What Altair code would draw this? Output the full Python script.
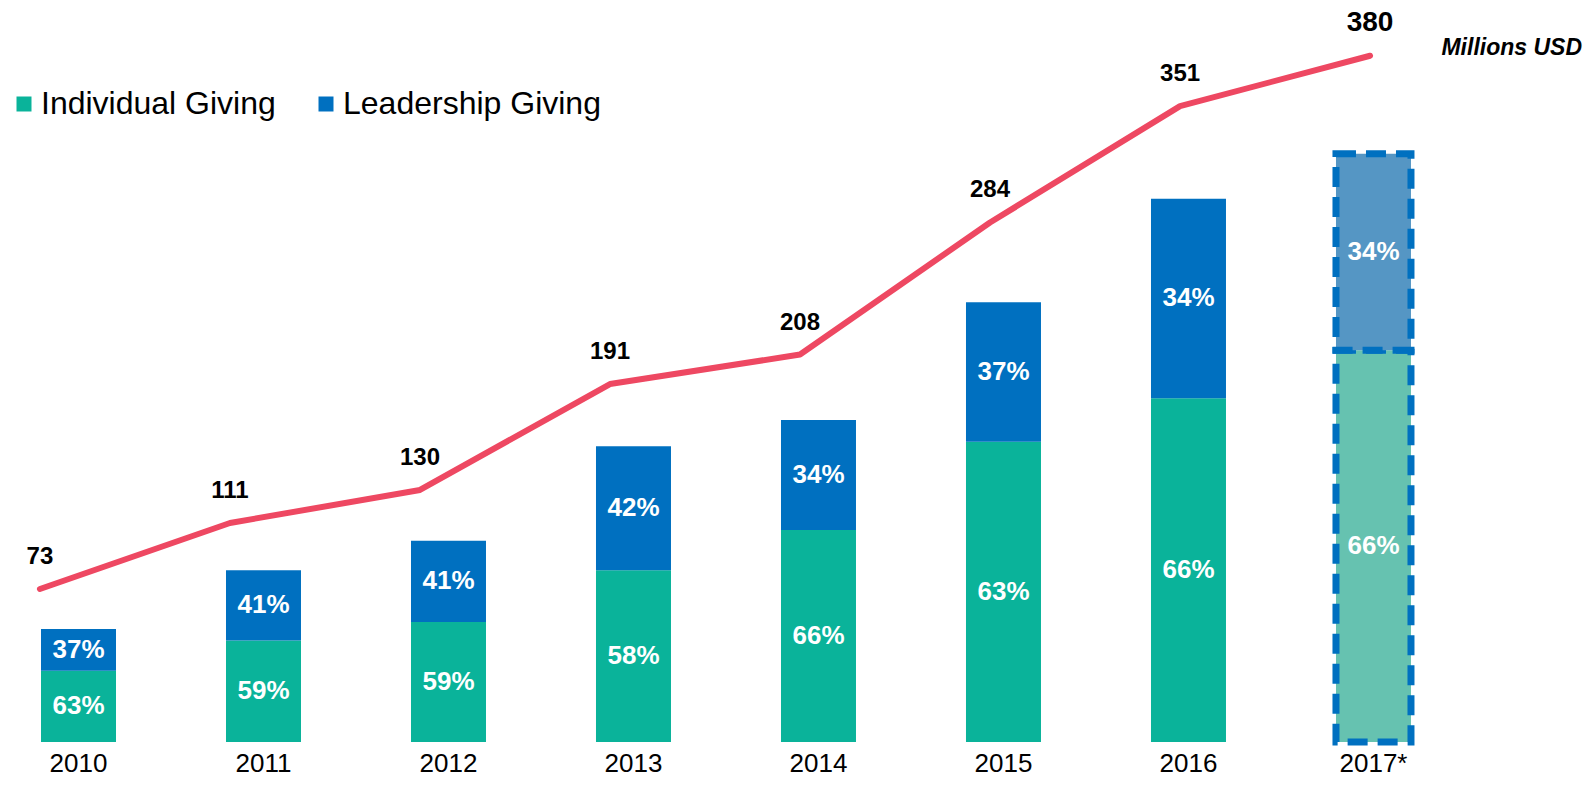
import altair as alt
import pandas as pd

# ---- data ----
years = ["2010", "2011", "2012", "2013", "2014", "2015", "2016", "2017*"]
totals = [73, 111, 130, 191, 208, 284, 351, 380]
# heights of the teal (individual) parts as drawn, millions USD
individual_amount = [46, 65.5, 77.5, 111, 137, 194, 222, 253]
individual_pct = [63, 59, 59, 58, 66, 63, 66, 66]
leadership_pct = [37, 41, 41, 42, 34, 37, 34, 34]
segments = ["Individual Giving", "Leadership Giving"]
unit_label = ["Millions USD"]

# ---- style ----
FONT = "Liberation Sans"
TEAL = "#0AB39A"
BLUE = "#0070C0"
TEAL_LIGHT = "#66C2B0"
BLUE_LIGHT = "#5596C4"
RED = "#EE4862"

PAD_TOP = 4
W, H = 1500, 730

rows = []
for y, t, ind, ip, lp in zip(years, totals, individual_amount, individual_pct, leadership_pct):
    lead = t - ind
    rows.append({"year": y, "segment": segments[0], "value": ind, "mid": ind / 2,
                 "label": f"{ip}%", "seg_order": 0})
    rows.append({"year": y, "segment": segments[1], "value": lead, "mid": ind + lead / 2,
                 "label": f"{lp}%", "seg_order": 1})
df_bars = pd.DataFrame(rows)
df_line = pd.DataFrame({"year": years, "total": totals})
df_unit = pd.DataFrame({"t": unit_label})

# bars: band scale (step 185, bandwidth 75)
xb = alt.Scale(domain=years, paddingInner=0.5946, paddingOuter=0.3514, align=0.2538)
# bar centres as a point scale (same centres as xb)
xc = alt.Scale(type="point", domain=years, padding=0.554, align=0.3439)
# line: point scale (step 190)
xl = alt.Scale(type="point", domain=years, padding=0.447, align=0.188)
yb = alt.Scale(domain=[0, H / 1.548], nice=False, zero=True)
yl = alt.Scale(domain=[-15.08, (H - 26.2) / 1.737], nice=False, zero=False)

x_axis = alt.Axis(title=None, labelFont=FONT, labelFontSize=26, labelColor="#000000",
                  ticks=False, domain=False, labelPadding=29, labelBaseline="alphabetic",
                  labelAngle=0, grid=False)

bars = alt.Chart(df_bars).transform_filter(alt.datum.year != "2017*").mark_bar().encode(
    x=alt.X("year:N", scale=xb, axis=x_axis),
    y=alt.Y("value:Q", scale=yb, axis=None, stack="zero"),
    color=alt.Color("segment:N",
                    scale=alt.Scale(domain=segments, range=[TEAL, BLUE]),
                    legend=alt.Legend(orient="none", legendX=0, legendY=80 - PAD_TOP,
                                      direction="horizontal", title=None,
                                      symbolType="square", symbolSize=225,
                                      symbolStrokeWidth=0, labelFont=FONT,
                                      labelFontSize=32, labelColor="#000000",
                                      labelOffset=1, columnPadding=34,
                                      labelLimit=0)),
    order=alt.Order("seg_order:Q"),
)

proj = alt.Chart(df_bars).transform_filter(alt.datum.year == "2017*").mark_bar(
    stroke=BLUE, strokeWidth=7, strokeDash=[20, 10]
).encode(
    x=alt.X("year:N", scale=xb, axis=None),
    y=alt.Y("value:Q", scale=yb, axis=None, stack="zero"),
    color=alt.Color("segment:N",
                    scale=alt.Scale(domain=segments, range=[TEAL_LIGHT, BLUE_LIGHT]),
                    legend=None),
    order=alt.Order("seg_order:Q"),
)

pct = alt.Chart(df_bars).mark_text(
    color="#FFFFFF", font=FONT, fontSize=26, fontWeight="bold", baseline="middle",
    align="center"
).encode(
    x=alt.X("year:N", scale=xc, axis=None),
    y=alt.Y("mid:Q", scale=yb, axis=None),
    text="label:N",
)

line = alt.Chart(df_line).mark_line(
    color=RED, strokeWidth=6, strokeCap="round", strokeJoin="round"
).encode(
    x=alt.X("year:N", scale=xl, axis=None),
    y=alt.Y("total:Q", scale=yl, axis=None),
)

line_labels = alt.Chart(df_line).mark_text(
    font=FONT, fontWeight="bold", color="#000000", dy=-25, baseline="alphabetic"
).encode(
    x=alt.X("year:N", scale=xl, axis=None),
    y=alt.Y("total:Q", scale=yl, axis=None),
    text="total:Q",
    size=alt.condition(alt.datum.year == "2017*", alt.value(28), alt.value(24)),
)

unit = alt.Chart(df_unit).mark_text(
    font=FONT, fontWeight="bold", fontStyle="italic", fontSize=23, color="#000000",
    align="right", baseline="alphabetic"
).encode(
    x=alt.value(1574), y=alt.value(46.5 - PAD_TOP), text="t:N"
)

chart = alt.layer(bars, proj, pct, line, line_labels, unit).resolve_scale(
    x="independent", y="independent", color="independent"
).properties(
    width=W, height=H,
    padding={"left": 0, "top": PAD_TOP, "right": 75, "bottom": 35},
    autosize=alt.AutoSizeParams(type="none"),
    background="#FFFFFF",
).configure_view(stroke=None)

chart.save("out.html", embed_options={"renderer": "svg", "actions": False})
